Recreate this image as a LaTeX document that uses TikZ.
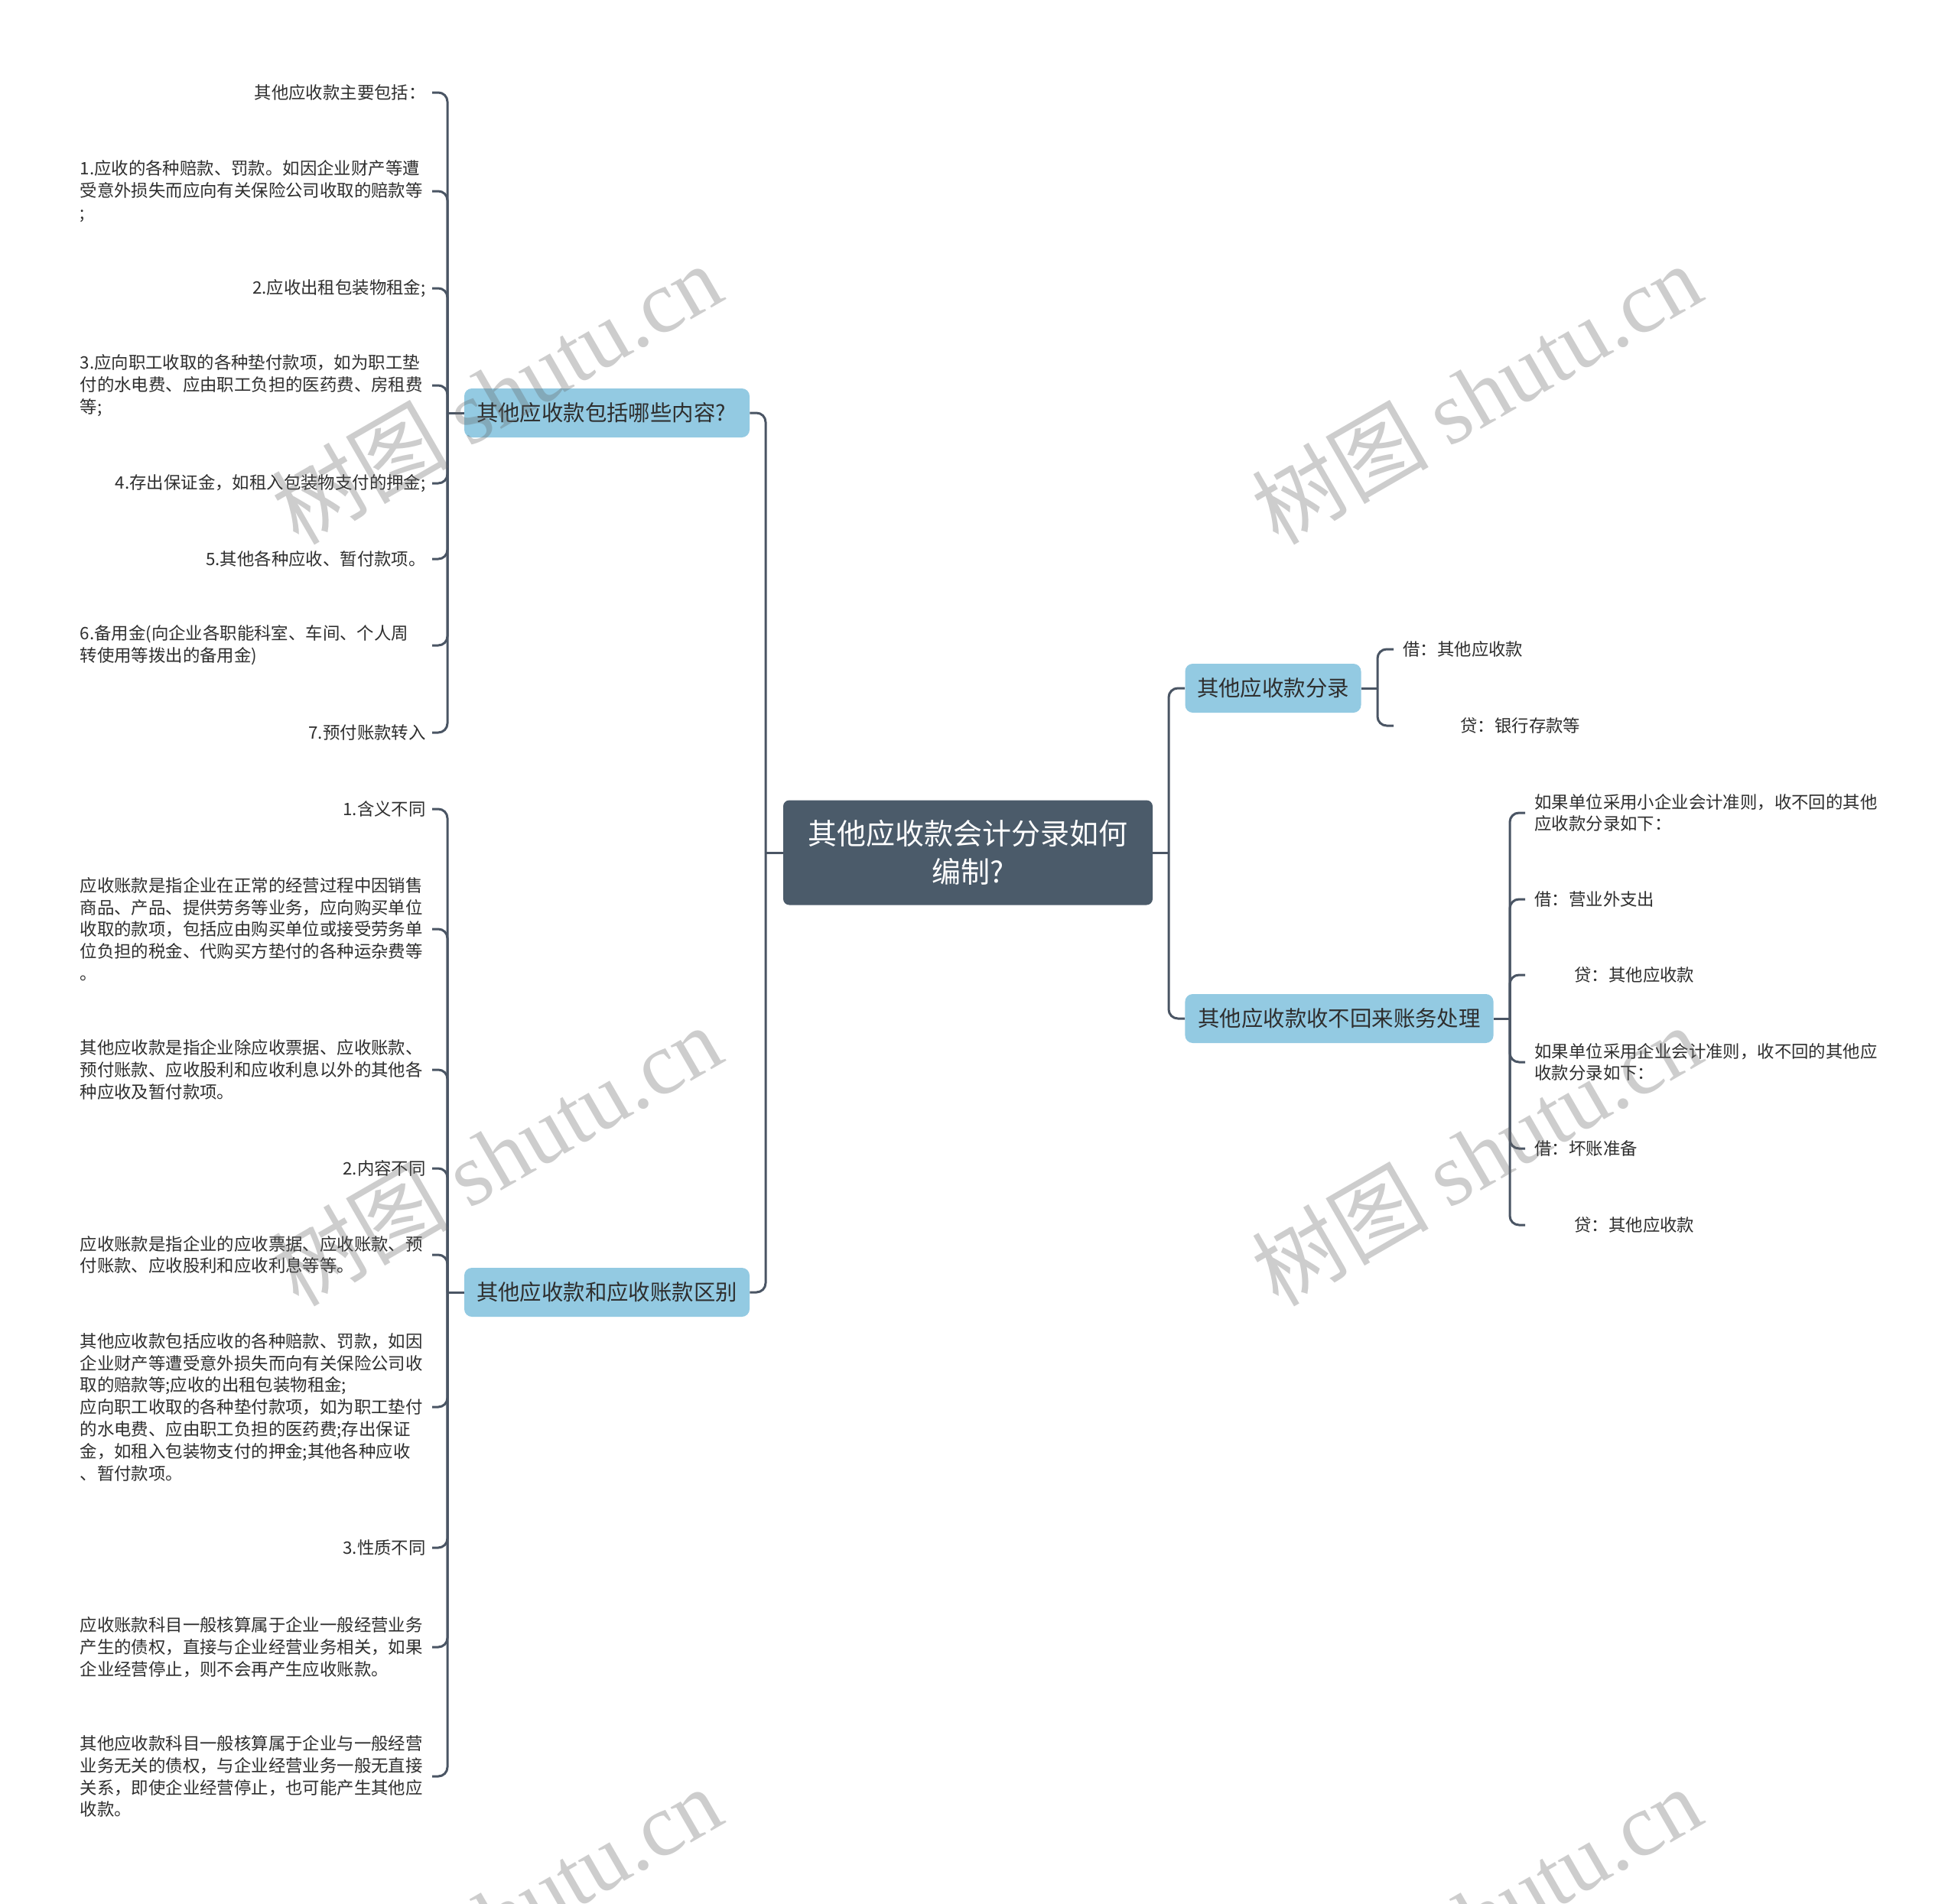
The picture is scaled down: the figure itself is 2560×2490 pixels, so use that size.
\documentclass[tikz,border=0pt]{standalone}
\usepackage{fontspec}
\setmainfont{Noto Sans CJK SC}
\newfontfamily\wmlatin{Liberation Serif}
\newfontfamily\wmcjk{Noto Sans CJK SC}
\definecolor{linec}{HTML}{4A5564}
\definecolor{rootc}{HTML}{4B5B6A}
\definecolor{topicc}{HTML}{93CAE2}
\definecolor{txt}{HTML}{2E2E2E}
\definecolor{wm}{HTML}{646464}
\begin{document}
\begin{tikzpicture}[x=0.5pt,y=-0.5pt,
 conn/.style={draw=linec,line width=1.5pt,rounded corners=6pt},
 root/.style={fill=rootc,rounded corners=4pt,text=white,minimum width=241.5pt,minimum height=68.5pt,align=center,font=\fontsize{19pt}{25.3pt}\selectfont,inner sep=0pt},
 topic/.style={fill=topicc,rounded corners=5pt,text=txt,minimum height=32pt,inner sep=0pt,font=\fontsize{14.2pt}{17pt}\selectfont},
 topicw/.style={topic,inner xsep=8pt,text width=170.5pt,align=left},
 leafL/.style={anchor=east,inner xsep=4pt,inner ysep=2pt,text=txt,font=\fontsize{11.2pt}{14.4pt}\selectfont},
 leafLm/.style={leafL,text width=226pt,align=left},
 leafR/.style={anchor=west,inner xsep=6pt,inner ysep=2pt,text=txt,align=left,font=\fontsize{11.2pt}{14.4pt}\selectfont},
 wmark/.style={text=wm,text opacity=0.32,rotate=30,inner sep=0pt,font=\fontsize{58pt}{60pt}\selectfont}
]
\useasboundingbox (0,0) rectangle (2560,2490);

% root and topics
\node[root] (c) at (1265.5,1115) {其他应收款会计分录如何\\编制?};
\node[topicw] (b1) at (793.5,540) {其他应收款包括哪些内容?};
\node[topicw] (b2) at (793.5,1690) {其他应收款和应收账款区别};
\node[topic,minimum width=115pt] (r1) at (1664.5,900) {其他应收款分录};
\node[topic,minimum width=201.6pt] (r2) at (1751,1332) {其他应收款收不回来账务处理};

% branch 1 leaves
\node[leafL] (a1) at (565,121) {其他应收款主要包括：};
\node[leafLm] (a2) at (565,250) {1.应收的各种赔款、罚款。如因企业财产等遭\\受意外损失而应向有关保险公司收取的赔款等\\;};
\node[leafL] (a3) at (565,377) {2.应收出租包装物租金;};
\node[leafLm] (a4) at (565,504) {3.应向职工收取的各种垫付款项，如为职工垫\\付的水电费、应由职工负担的医药费、房租费\\等;};
\node[leafL] (a5) at (565,632) {4.存出保证金，如租入包装物支付的押金;};
\node[leafL] (a6) at (565,731) {5.其他各种应收、暂付款项。};
\node[leafLm] (a7) at (565,844) {6.备用金(向企业各职能科室、车间、个人周\\转使用等拨出的备用金)};
\node[leafL] (a8) at (565,958) {7.预付账款转入};

% branch 2 leaves
\node[leafL] (d1) at (565,1058) {1.含义不同};
\node[leafLm] (d2) at (565,1215) {应收账款是指企业在正常的经营过程中因销售\\商品、产品、提供劳务等业务，应向购买单位\\收取的款项，包括应由购买单位或接受劳务单\\位负担的税金、代购买方垫付的各种运杂费等\\。};
\node[leafLm] (d3) at (565,1399) {其他应收款是指企业除应收票据、应收账款、\\预付账款、应收股利和应收利息以外的其他各\\种应收及暂付款项。};
\node[leafL] (d4) at (565,1528) {2.内容不同};
\node[leafLm] (d5) at (565,1641) {应收账款是指企业的应收票据、应收账款、预\\付账款、应收股利和应收利息等等。};
\node[leafLm] (d6) at (565,1840) {其他应收款包括应收的各种赔款、罚款，如因\\企业财产等遭受意外损失而向有关保险公司收\\取的赔款等;应收的出租包装物租金;\\应向职工收取的各种垫付款项，如为职工垫付\\的水电费、应由职工负担的医药费;存出保证\\金，如租入包装物支付的押金;其他各种应收\\、暂付款项。};
\node[leafL] (d7) at (565,2024) {3.性质不同};
\node[leafLm] (d8) at (565,2154) {应收账款科目一般核算属于企业一般经营业务\\产生的债权，直接与企业经营业务相关，如果\\企业经营停止，则不会再产生应收账款。};
\node[leafLm] (d9) at (565,2323) {其他应收款科目一般核算属于企业与一般经营\\业务无关的债权，与企业经营业务一般无直接\\关系，即使企业经营停止，也可能产生其他应\\收款。};

% right leaves
\node[leafR] (e1) at (1822,849) {借：其他应收款};
\node[leafR] (e2) at (1822,949) {\hspace*{37.5pt}贷：银行存款等};
\node[leafR] (f1) at (1994,1063) {如果单位采用小企业会计准则，收不回的其他\\应收款分录如下：};
\node[leafR] (f2) at (1994,1176) {借：营业外支出};
\node[leafR] (f3) at (1994,1275) {\hspace*{26pt}贷：其他应收款};
\node[leafR] (f4) at (1994,1389) {如果单位采用企业会计准则，收不回的其他应\\收款分录如下：};
\node[leafR] (f5) at (1994,1502) {借：坏账准备};
\node[leafR] (f6) at (1994,1602) {\hspace*{26pt}贷：其他应收款};

% junctions
\coordinate (jL) at (1001,1115);
\coordinate (jR) at (1528,1115);
\coordinate (j1) at (585,540);
\coordinate (j2) at (585,1690);
\coordinate (j3) at (1801,900);
\coordinate (j4) at (1974,1332);

% connectors
\draw[conn] (c.west) -- (jL);
\draw[conn] (jL) |- (b1.east);
\draw[conn] (jL) |- (b2.east);
\draw[conn] (c.east) -- (jR);
\draw[conn] (jR) |- (r1.west);
\draw[conn] (jR) |- (r2.west);

\draw[conn] (b1.west) -- (j1);
\foreach \n in {a1,a2,a3,a4,a5,a6,a7,a8} {\draw[conn] (j1) |- (\n.east);}
\draw[conn] (b2.west) -- (j2);
\foreach \n in {d1,d2,d3,d4,d5,d6,d7,d8,d9} {\draw[conn] (j2) |- (\n.east);}
\draw[conn] (r1.east) -- (j3);
\foreach \n in {e1,e2} {\draw[conn] (j3) |- (\n.west);}
\draw[conn] (r2.east) -- (j4);
\foreach \n in {f1,f2,f3,f4,f5,f6} {\draw[conn] (j4) |- (\n.west);}

% watermarks
\foreach \p [count=\i] in {(649,514),(1930,514),(649,1510),(1930,1510),(649,2506),(1930,2506)} {
  \node[wmark] (w\i) at \p {\wmcjk 树图 \wmlatin shutu.cn};
}
\end{tikzpicture}
\end{document}
